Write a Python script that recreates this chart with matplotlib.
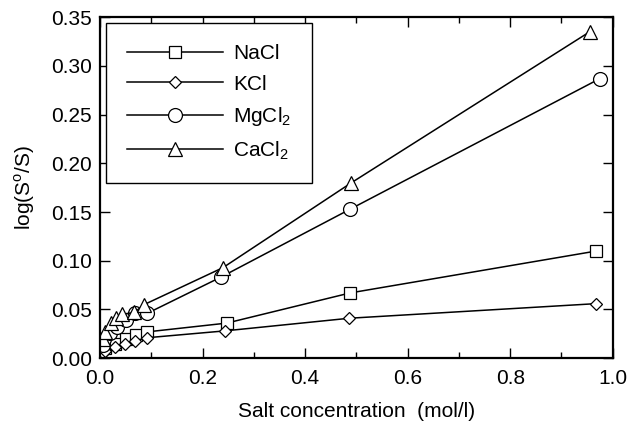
import matplotlib
matplotlib.use("Agg")
import matplotlib.pyplot as plt
from matplotlib.ticker import MultipleLocator, FormatStrFormatter

plt.rcParams['font.family'] = ['Liberation Sans', 'DejaVu Sans']
plt.rcParams['mathtext.fontset'] = 'custom'
plt.rcParams['mathtext.rm'] = 'Liberation Sans'

# salt concentration (mol/l) and log(S0/S)
x_nacl = [0.01, 0.03, 0.05, 0.07, 0.092, 0.247, 0.488, 0.968]
y_nacl = [0.010, 0.015, 0.020, 0.024, 0.027, 0.036, 0.067, 0.110]

x_kcl = [0.005, 0.01, 0.029, 0.049, 0.069, 0.092, 0.243, 0.486, 0.968]
y_kcl = [0.005, 0.007, 0.011, 0.015, 0.018, 0.021, 0.028, 0.041, 0.056]

x_mgcl2 = [0.005, 0.008, 0.02, 0.033, 0.05, 0.069, 0.092, 0.235, 0.488, 0.975]
y_mgcl2 = [0.014, 0.020, 0.026, 0.032, 0.039, 0.046, 0.046, 0.083, 0.153, 0.287]

x_cacl2 = [0.005, 0.01, 0.022, 0.032, 0.043, 0.067, 0.086, 0.24, 0.49, 0.955]
y_cacl2 = [0.020, 0.027, 0.036, 0.041, 0.045, 0.047, 0.055, 0.093, 0.180, 0.335]

fig = plt.figure(figsize=(6.33, 4.3), dpi=100)
ax = fig.add_axes([0.158, 0.167, 0.810, 0.793])

mk = dict(color='black', lw=1.1, mfc='white', mec='black', mew=0.9)
ax.plot(x_nacl, y_nacl, marker='s', ms=9, label='NaCl', **mk)
ax.plot(x_kcl, y_kcl, marker='D', ms=6.5, label='KCl', **mk)
ax.plot(x_mgcl2, y_mgcl2, marker='o', ms=10, label=r'MgCl$_2$', **mk)
ax.plot(x_cacl2, y_cacl2, marker='^', ms=10, label=r'CaCl$_2$', **mk)

ax.set_xlim(0, 1.0)
ax.set_ylim(0, 0.35)
ax.xaxis.set_major_locator(MultipleLocator(0.2))
ax.xaxis.set_minor_locator(MultipleLocator(0.1))
ax.yaxis.set_major_locator(MultipleLocator(0.05))
ax.xaxis.set_major_formatter(FormatStrFormatter('%.1f'))
ax.yaxis.set_major_formatter(FormatStrFormatter('%.2f'))
ax.tick_params(which='both', direction='in', top=True, right=True, labelsize=15)
ax.tick_params(which='major', length=7, width=1)
ax.tick_params(which='minor', length=4, width=1)
ax.tick_params(axis='x', pad=8)
ax.tick_params(axis='y', pad=6)
for s in ax.spines.values():
    s.set_linewidth(1.6)

ax.set_xlabel('Salt concentration  (mol/l)', fontsize=15, labelpad=10)
ax.set_ylabel(r'log(S$^{\rm o}$/S)', fontsize=15, labelpad=10)

leg = ax.legend(loc='upper left', bbox_to_anchor=(0.012, 0.982), fontsize=15,
                handlelength=4.6, handletextpad=0.5, borderpad=1.0,
                labelspacing=0.55, borderaxespad=0,
                fancybox=False, edgecolor='black', framealpha=1)
leg.get_frame().set_linewidth(1.0)

fig.savefig('out.png', dpi=100)
